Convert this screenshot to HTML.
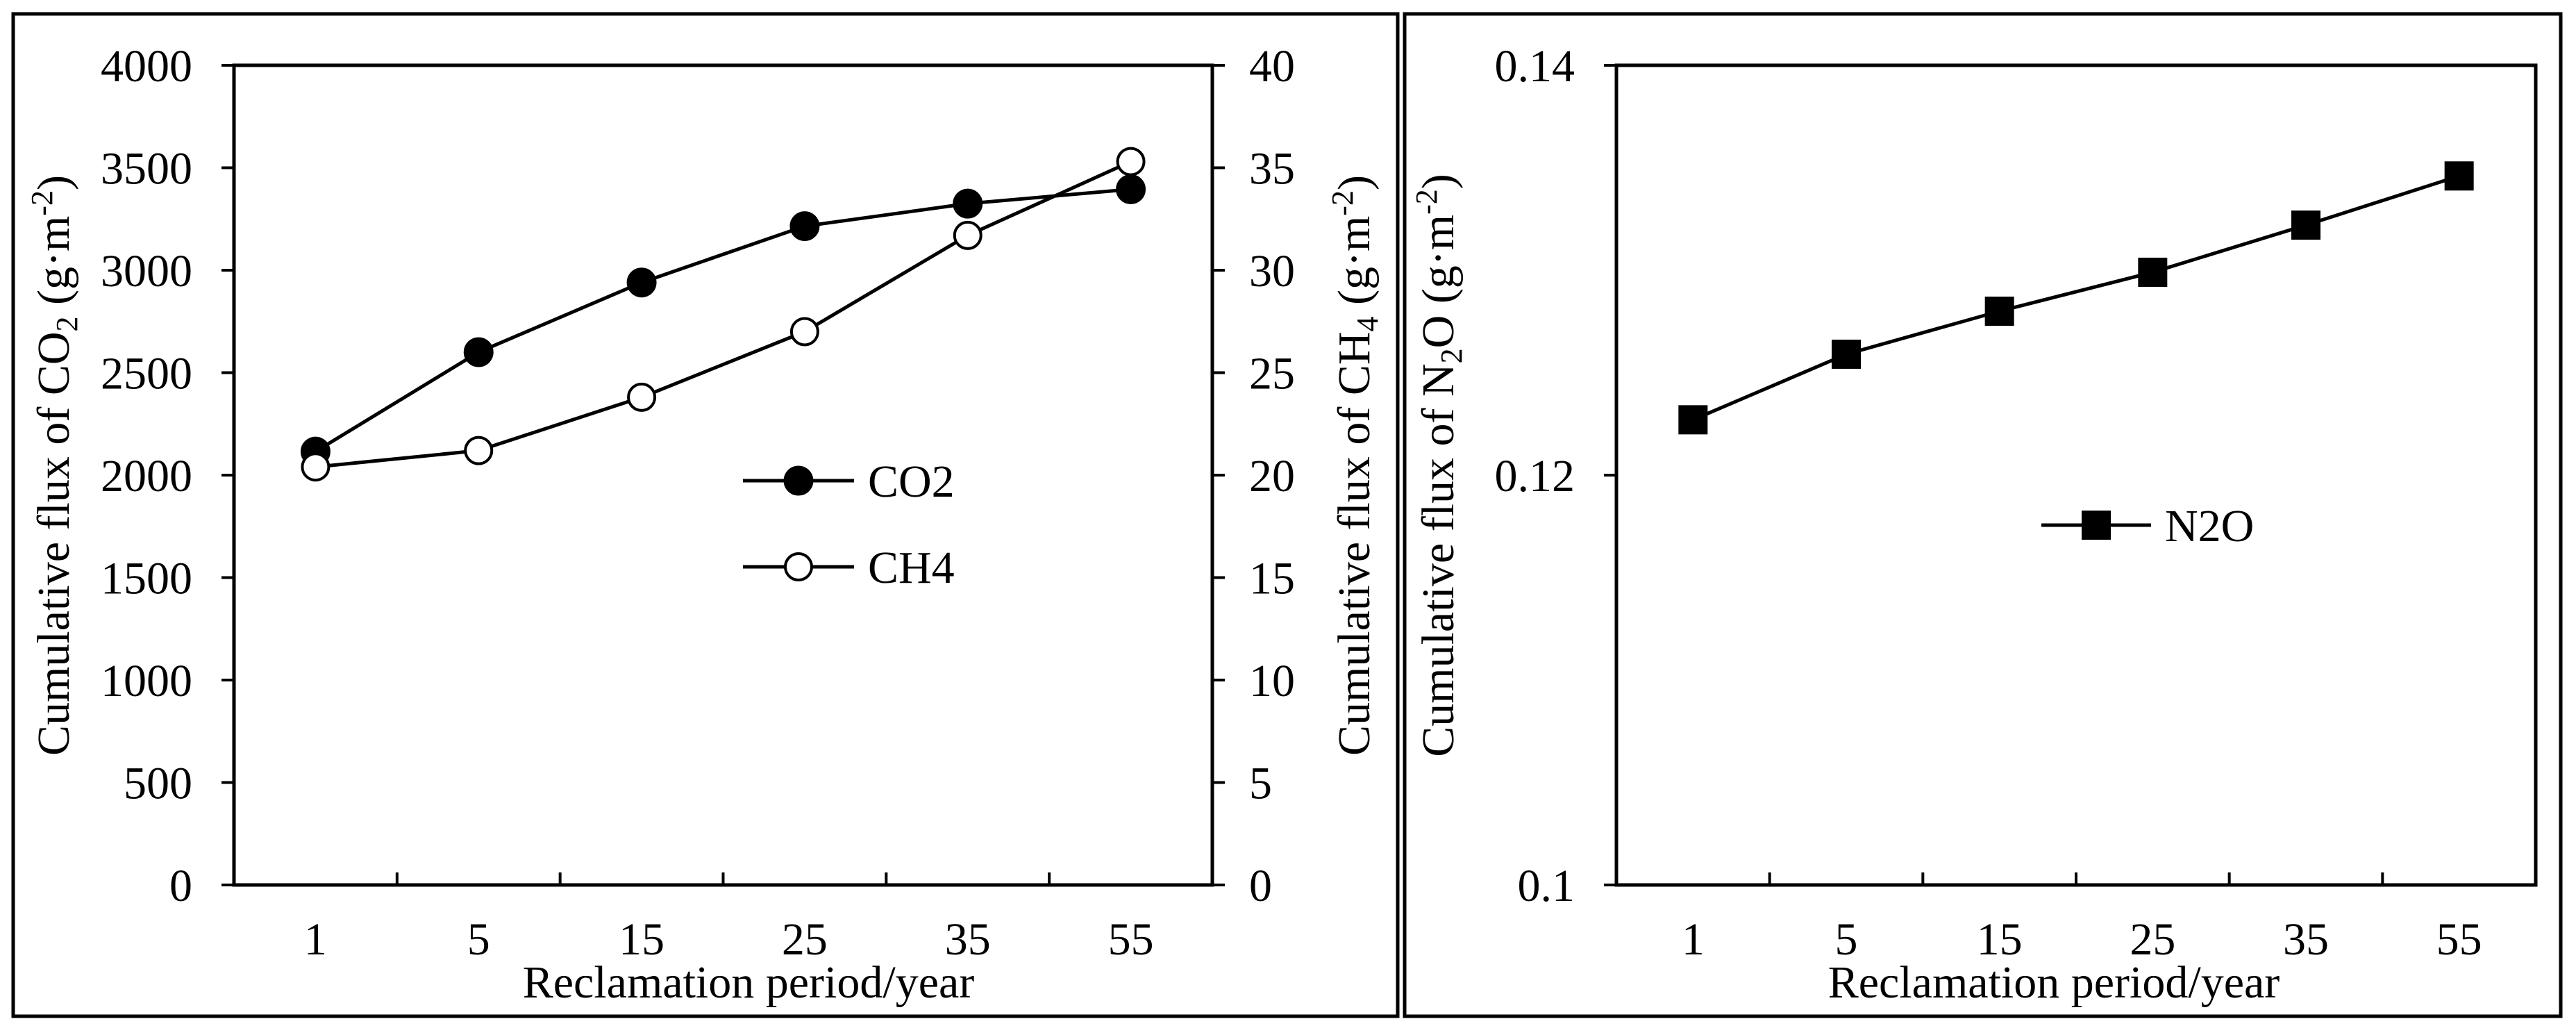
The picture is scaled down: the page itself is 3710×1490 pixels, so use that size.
<!DOCTYPE html>
<html><head><meta charset="utf-8"><style>
html,body{margin:0;padding:0;background:#fff;}
svg{display:block;font-family:"Liberation Serif","Times New Roman",serif;}
</style></head><body>
<svg id="chart" width="3710" height="1490" viewBox="0 0 3710 1490" xmlns="http://www.w3.org/2000/svg">
<rect x="19" y="20" width="1994" height="1443" fill="none" stroke="#000" stroke-width="5"/>
<rect x="2023" y="20" width="1665" height="1443" fill="none" stroke="#000" stroke-width="5"/>
<g id="left"></g>
<g id="right"></g>
</svg>
<script>
const categories = ["1","5","15","25","35","55"];
const co2Values = [2115, 2600, 2940, 3215, 3325, 3395];
const ch4Values = [20.4, 21.2, 23.8, 27.0, 31.7, 35.3];
const n2oValues = [0.1227, 0.1259, 0.1280, 0.1299, 0.1322, 0.1346];
const co2Ticks = ["0","500","1000","1500","2000","2500","3000","3500","4000"];
const ch4Ticks = ["0","5","10","15","20","25","30","35","40"];
const n2oTicks = ["0.1","0.12","0.14"];

const NS = "http://www.w3.org/2000/svg";
function mk(parent, tag, attrs, text){
  const e = document.createElementNS(NS, tag);
  for (const k in attrs) e.setAttribute(k, attrs[k]);
  if (text !== undefined) e.textContent = text;
  parent.appendChild(e);
  return e;
}
const FS = 66;

function drawPanel(g, box, yMin, yMax, yTicks, xTitleX){
  const xs = i => box.x0 + (box.x1 - box.x0) / categories.length * (i + 0.5);
  const ys = v => box.y1 - (v - yMin) / (yMax - yMin) * (box.y1 - box.y0);
  const r = mk(g, "rect", {x:box.x0, y:box.y0, width:box.x1-box.x0, height:box.y1-box.y0, fill:"none", stroke:"#000", "stroke-width":5});
  
  
  const bw = (box.x1 - box.x0) / categories.length;
  for (let i = 1; i < categories.length; i++){
    const t = mk(g, "line", {x1:box.x0+bw*i, x2:box.x0+bw*i, y1:box.y1, y2:box.y1-18, stroke:"#000", "stroke-width":4});
    
    
  }
  categories.forEach((c, i) => {
    const t = mk(g, "text", {x:xs(i), y:1374, "font-size":FS, "text-anchor":"middle"}, c);
    
    
  });
  yTicks.forEach((lab) => {
    const v = parseFloat(lab);
    const y = ys(v);
    const tk = mk(g, "line", {x1:box.x0, x2:box.x0-18, y1:y, y2:y, stroke:"#000", "stroke-width":4});
    
    
    const t = mk(g, "text", {x:box.x0-60, y:y+23, "font-size":FS, "text-anchor":"end"}, lab);
    
    
  });
  const xt = mk(g, "text", {x:xTitleX, y:1436, "font-size":FS, "text-anchor":"middle"}, "Reclamation period/year");
  
  
  return {xs, ys};
}

function ytitle(g, x, y, pre, sub, post, name){
  const t = mk(g, "text", {x:0, y:0, "font-size":FS, "text-anchor":"middle", transform:`translate(${x},${y}) rotate(-90)`});
  
  
  mk(t, "tspan", {}, "Cumulative flux of " + pre);
  mk(t, "tspan", {"font-size":44, dy:12}, sub);
  mk(t, "tspan", {dy:-12}, post + " (g\u00b7m");
  mk(t, "tspan", {"font-size":44, dy:-24}, "-2");
  mk(t, "tspan", {dy:24}, ")");
}

function series(g, vals, xs, ys, kind, name){
  const pts = vals.map((v,i)=>[xs(i), ys(v)]);
  const pl = mk(g, "polyline", {points:pts.map(p=>p.join(",")).join(" "), fill:"none", stroke:"#000", "stroke-width":5});
  
  
  pts.forEach(p => marker(g, p[0], p[1], kind, name + '-point'));
}
function marker(g, x, y, kind, name){
  let m;
  if (kind === "filled") m = mk(g, "circle", {cx:x, cy:y, r:20, fill:"#000", stroke:"#000", "stroke-width":3});
  else if (kind === "open") m = mk(g, "circle", {cx:x, cy:y, r:19, fill:"#fff", stroke:"#000", "stroke-width":4});
  else m = mk(g, "rect", {x:x-21, y:y-21, width:42, height:42, fill:"#000"});
  
  
}
function legend(g, x0, x1, y, kind, label, name){
  const l = mk(g, "line", {x1:x0, x2:x1, y1:y, y2:y, stroke:"#000", "stroke-width":5});
  
  
  marker(g, (x0+x1)/2, y, kind, name + '-marker');
  const t = mk(g, "text", {x:x1+20, y:y+23, "font-size":FS}, label);
  
  
}

// Left panel
const L = document.getElementById("left");
const lbox = {x0:337, x1:1746, y0:94, y1:1274};
const la = drawPanel(L, lbox, 0, 4000, co2Ticks, 1078);
const ys2 = v => lbox.y1 - v/40*(lbox.y1-lbox.y0);
ch4Ticks.forEach(lab => {
  const y = ys2(parseFloat(lab));
  const tk = mk(L, "line", {x1:lbox.x1, x2:lbox.x1+18, y1:y, y2:y, stroke:"#000", "stroke-width":4});
  
  
  const t = mk(L, "text", {x:1799, y:y+23, "font-size":FS}, lab);
  
  
});
ytitle(L, 99, 670, "CO", "2", "", "y-axis-title");
ytitle(L, 1972, 670, "CH", "4", "", "y2-axis-title");
series(L, co2Values, la.xs, la.ys, "filled", "co2");
series(L, ch4Values, la.xs, ys2, "open", "ch4");
legend(L, 1070, 1230, 692, "filled", "CO2", "legend-co2");
legend(L, 1070, 1230, 816, "open", "CH4", "legend-ch4");

// Right panel
const R = document.getElementById("right");
const rbox = {x0:2328, x1:3652, y0:94, y1:1274};
const ra = drawPanel(R, rbox, 0.1, 0.14, n2oTicks, 2958);
ytitle(R, 2093, 670, "N", "2", "O", "y-axis-title-n2o");
series(R, n2oValues, ra.xs, ra.ys, "square", "n2o");
legend(R, 2940, 3098, 756, "square", "N2O", "legend-n2o");
</script>
</body></html>
